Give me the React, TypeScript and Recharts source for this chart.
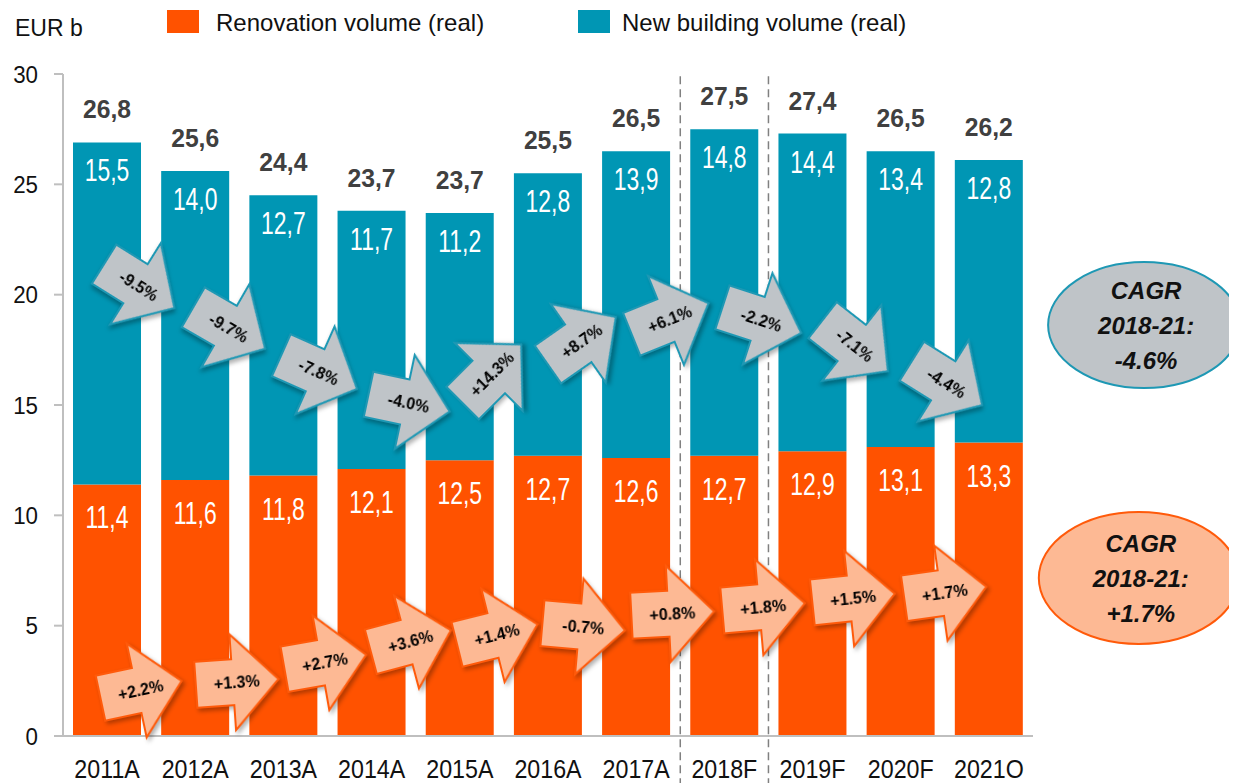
import React from "react";
import {
  BarChart,
  Bar,
  XAxis,
  YAxis,
  LabelList,
  ReferenceLine,
  ReferenceDot,
} from "recharts";

const years = ["2011A", "2012A", "2013A", "2014A", "2015A", "2016A", "2017A", "2018F", "2019F", "2020F", "2021O"];
const renovation = [11.4, 11.6, 11.8, 12.1, 12.5, 12.7, 12.6, 12.7, 12.9, 13.1, 13.3];
const newBuilding = [15.5, 14.0, 12.7, 11.7, 11.2, 12.8, 13.9, 14.8, 14.4, 13.4, 12.8];
const totals = [26.8, 25.6, 24.4, 23.7, 23.7, 25.5, 26.5, 27.5, 27.4, 26.5, 26.2];
const yTicks = [0, 5, 10, 15, 20, 25, 30];

const newBuildingGrowth = ["-9.5%", "-9.7%", "-7.8%", "-4.0%", "+14.3%", "+8.7%", "+6.1%", "-2.2%", "-7.1%", "-4.4%"];
const renovationGrowth = ["+2.2%", "+1.3%", "+2.7%", "+3.6%", "+1.4%", "-0.7%", "+0.8%", "+1.8%", "+1.5%", "+1.7%"];
const cagrPeriod = "2018-21:";
const cagrNewBuilding = "-4.6%";
const cagrRenovation = "+1.7%";

// arrow placement (x in category slots, 0 = first bar centre; y in EUR b) and tilt in degrees
const newArrowX = [0.36, 1.38, 2.4, 3.42, 4.36, 5.38, 6.38, 7.42, 8.48, 9.52];
const newArrowY = [20.4, 18.5, 16.5, 15.1, 16.4, 17.9, 18.9, 18.85, 17.7, 16.0];
const newArrowTilt = [32, 30, 24, 12, -45, -35, -22, 18, 38, 32];
const renArrowX = [0.38, 1.47, 2.47, 3.44, 4.42, 5.4, 6.41, 7.44, 8.46, 9.5];
const renArrowY = [2.1, 2.45, 3.35, 4.3, 4.6, 4.95, 5.55, 5.85, 6.25, 6.5];
const renArrowTilt = [-12, -4, -10, -15, -14, 5, -3, -5, -6, -8];

const ORANGE = "#ff5200";
const TEAL = "#0096b4";
const GREY = "#bfc4c8";
const PEACH = "#fdb994";
const FONT = "'Liberation Sans', Arial, sans-serif";

const data = years.map((year, i) => ({
  year,
  renovation: renovation[i],
  newBuilding: newBuilding[i],
  total: totals[i],
}));

// the hidden numeric axis spans 0..n-1 over the whole plot width,
// so convert a category slot to that axis
const n = years.length;
const toPos = (slot: number) => ((slot + 0.5) * (n - 1)) / n;

const fmt = (v: number) => v.toFixed(1).replace(".", ",");

const box = (props: any) => props.viewBox ?? props;

const insideLabel = (offset: number) => (props: any) => {
  const vb = box(props);
  const x = vb.x + vb.width / 2;
  const y = vb.y + offset;
  return (
    <text
      transform={`translate(${x},${y}) scale(0.74,1)`}
      textAnchor="middle"
      dy="0.71em"
      fontSize={31}
      fill="#fff"
      fontFamily={FONT}
    >
      {fmt(Number(props.value))}
    </text>
  );
};

const totalLabel = (props: any) => {
  const vb = box(props);
  const x = vb.x + vb.width / 2;
  const y = vb.y - 24;
  return (
    <text
      transform={`translate(${x},${y}) scale(0.95,1)`}
      textAnchor="middle"
      fontSize={26}
      fontWeight="bold"
      fill="#404040"
      fontFamily={FONT}
    >
      {fmt(Number(props.value))}
    </text>
  );
};

const YTick = (props: any) => (
  <text
    transform={`translate(${props.x},${props.y}) scale(0.93,1)`}
    textAnchor="end"
    dy="0.36em"
    fontSize={24}
    fill="#111"
    fontFamily={FONT}
  >
    {props.payload.value}
  </text>
);

const XTick = (props: any) => (
  <text
    transform={`translate(${props.x},${props.y}) scale(0.93,1)`}
    textAnchor="middle"
    dy="0.71em"
    fontSize={25}
    fill="#111"
    fontFamily={FONT}
  >
    {props.payload.value}
  </text>
);

const growthArrow = (label: string, tilt: number, fill: string, stroke: string) => (props: any) => (
  <g
    transform={`translate(${props.cx},${props.cy}) rotate(${tilt})`}
    style={{ filter: "drop-shadow(2px 3px 2px rgba(0,0,0,0.3))" }}
  >
    <polygon
      points="-41,-23 -4,-23 -4,-48 42,0 -4,48 -4,23 -41,23"
      fill={fill}
      stroke={stroke}
      strokeWidth={2}
    />
    <text x={0} y={0} dy="0.36em" textAnchor="middle" fontSize={16} fontWeight="bold" fill="#000" fontFamily={FONT}>
      {label}
    </text>
  </g>
);

const cagrBubble = (value: string, fill: string, stroke: string, rx: number, ry: number) => (props: any) => (
  <g>
    <ellipse cx={props.cx} cy={props.cy} rx={rx} ry={ry} fill={fill} stroke={stroke} strokeWidth={2} />
    {["CAGR", cagrPeriod, value].map((line, i) => (
      <text
        key={line}
        x={props.cx + 2}
        y={props.cy + (i - 1) * 35}
        dy="0.36em"
        textAnchor="middle"
        fontSize={24}
        fontWeight="bold"
        fontStyle="italic"
        fill="#111"
        fontFamily={FONT}
      >
        {line}
      </text>
    ))}
  </g>
);

export default function App() {
  return (
    <div style={{ position: "relative", width: 1229, height: 775, fontFamily: FONT }}>
      <div style={{ position: "absolute", left: 7, top: 9, fontSize: 23, lineHeight: "23px", color: "#111" }}>EUR b</div>
      <div style={{ position: "absolute", left: 159, top: 2, width: 32, height: 23, background: ORANGE }} />
      <div style={{ position: "absolute", left: 208, top: 3, fontSize: 24, lineHeight: "24px", color: "#111" }}>
        Renovation volume (real)
      </div>
      <div style={{ position: "absolute", left: 570, top: 2, width: 32, height: 23, background: TEAL }} />
      <div style={{ position: "absolute", left: 614, top: 3, fontSize: 24, lineHeight: "24px", color: "#111" }}>
        New building volume (real)
      </div>

      <BarChart
        width={1229}
        height={775}
        data={data}
        margin={{ top: 66, right: 204, bottom: 7, left: 5 }}
        barCategoryGap={10}
      >
        <XAxis
          dataKey="year"
          height={40}
          tickSize={0}
          tickLine={false}
          tickMargin={24}
          axisLine={{ stroke: "#bfbfbf", strokeWidth: 2 }}
          tick={<XTick />}
          interval={0}
        />
        <XAxis xAxisId="pos" type="number" domain={[0, n - 1]} hide allowDataOverflow />
        <YAxis
          width={50}
          domain={[0, 30]}
          ticks={yTicks}
          interval={0}
          tickSize={9}
          tickMargin={16}
          axisLine={{ stroke: "#bfbfbf", strokeWidth: 2 }}
          tickLine={{ stroke: "#bfbfbf", strokeWidth: 2 }}
          tick={<YTick />}
          allowDataOverflow
        />
        <Bar dataKey="renovation" stackId="v" fill={ORANGE} isAnimationActive={false}>
          <LabelList dataKey="renovation" content={insideLabel(22)} />
        </Bar>
        <Bar dataKey="newBuilding" stackId="v" fill={TEAL} isAnimationActive={false}>
          <LabelList dataKey="newBuilding" content={insideLabel(17)} />
          <LabelList dataKey="total" content={totalLabel} />
        </Bar>

        {[6.5, 7.5].map((slot) => (
          <ReferenceLine
            key={slot}
            xAxisId="pos"
            segment={[{ x: toPos(slot), y: 29.9 }, { x: toPos(slot), y: -2.2 }]}
            ifOverflow="visible"
            stroke="#808080"
            strokeWidth={1.5}
            strokeDasharray="8 5"
          />
        ))}

        {newBuildingGrowth.map((label, i) => (
          <ReferenceDot
            key={"n" + i}
            xAxisId="pos"
            x={toPos(newArrowX[i])}
            y={newArrowY[i]}
            ifOverflow="visible"
            shape={growthArrow(label, newArrowTilt[i], GREY, "#1e98b4")}
          />
        ))}
        {renovationGrowth.map((label, i) => (
          <ReferenceDot
            key={"r" + i}
            xAxisId="pos"
            x={toPos(renArrowX[i])}
            y={renArrowY[i]}
            ifOverflow="visible"
            shape={growthArrow(label, renArrowTilt[i], PEACH, "#ff5a0a")}
          />
        ))}

        <ReferenceDot
          xAxisId="pos"
          x={toPos(11.76)}
          y={18.62}
          ifOverflow="visible"
          shape={cagrBubble(cagrNewBuilding, GREY, "#1e98b4", 96, 63)}
        />
        <ReferenceDot
          xAxisId="pos"
          x={toPos(11.7)}
          y={7.16}
          ifOverflow="visible"
          shape={cagrBubble(cagrRenovation, PEACH, "#ff5a0a", 100, 66)}
        />
      </BarChart>
    </div>
  );
}
